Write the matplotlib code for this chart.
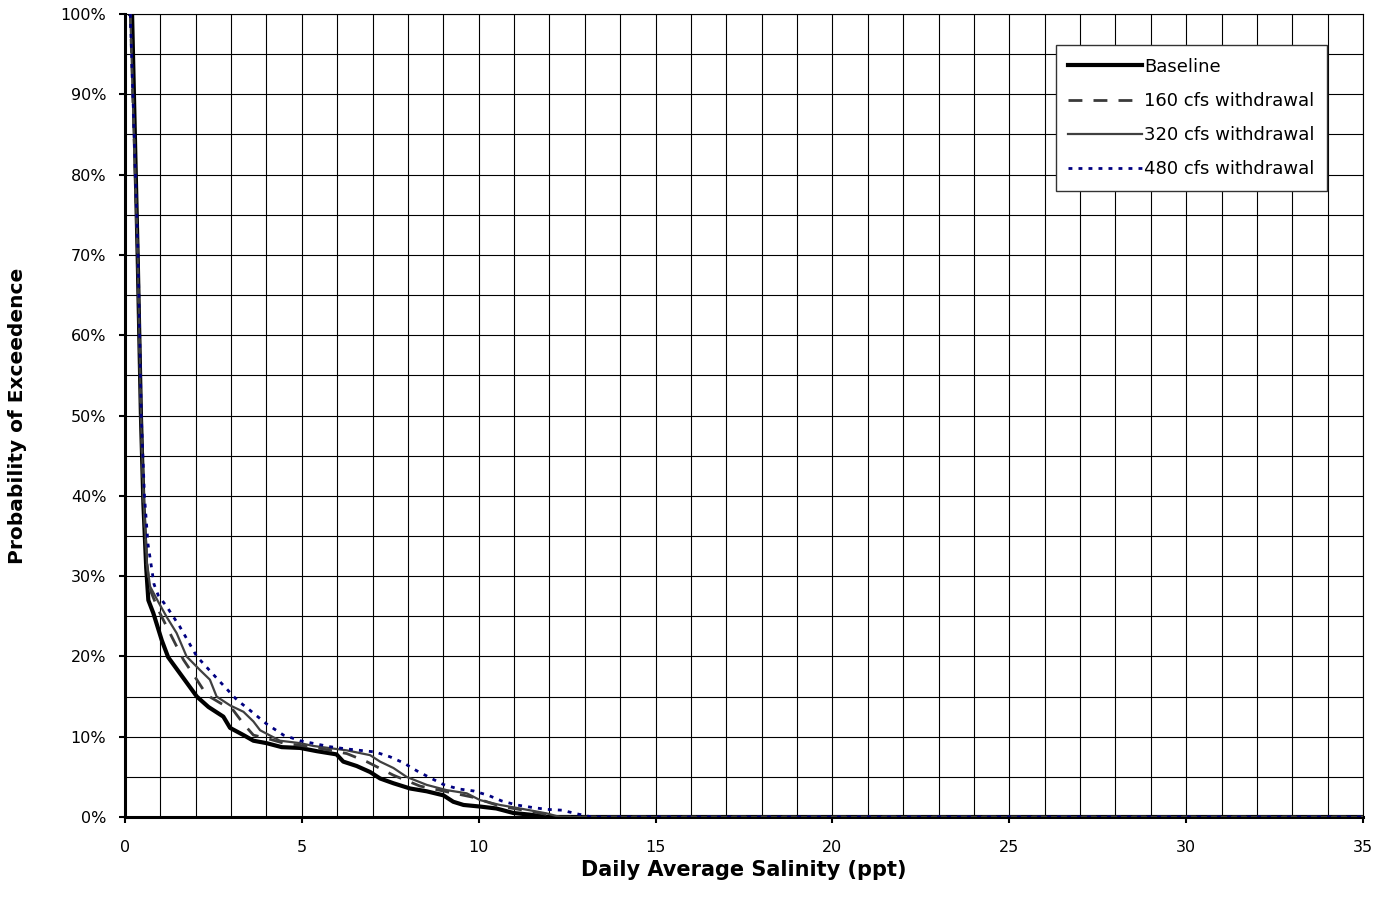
import matplotlib
matplotlib.use("Agg")
import matplotlib.pyplot as plt
from matplotlib.ticker import MultipleLocator, FuncFormatter

plt.rcParams['font.family'] = ['DejaVu Sans']

# Exceedence curves: salinity (ppt) vs probability (%)
base_sal = [0.15, 0.20, 0.36, 0.45, 0.52, 0.60, 0.66, 0.80, 1.04, 1.22, 1.65, 2.03, 2.36, 2.78, 2.97,
            3.35, 3.63, 4.0, 4.43, 4.95, 5.42, 5.98, 6.17, 6.55, 6.93, 7.21, 7.59, 8.06, 8.53, 9.0,
            9.28, 9.57, 10.04, 10.5, 10.98, 11.54, 11.9, 35]
base_prob = [100, 100, 69.5, 50, 39, 31, 27, 25.4, 22, 19.9, 17.3, 15, 13.7, 12.5, 11.1,
             10.2, 9.5, 9.2, 8.7, 8.6, 8.2, 7.8, 6.9, 6.35, 5.6, 4.8, 4.2, 3.55, 3.2, 2.7,
             1.9, 1.5, 1.3, 1.06, 0.5, 0.25, 0, 0]

w160_sal = [0.15, 0.36, 0.45, 0.53, 0.62, 0.71, 0.94, 1.27, 1.65, 2.03, 2.31, 2.69, 3.06, 3.35,
            3.63, 4.0, 4.48, 5.32, 6.27, 6.83, 7.59, 8.34, 9.09, 9.85, 10.6, 11.54, 12.3, 35]
w160_prob = [100, 69.5, 50, 39, 31.5, 28.3, 25.8, 22.9, 19.6, 17.1, 15.2, 14.2, 13.3, 11.6,
             10.2, 9.8, 9.2, 8.7, 7.9, 6.9, 5.2, 3.85, 3.15, 2.45, 1.35, 0.65, 0, 0]

w320_sal = [0.15, 0.36, 0.45, 0.53, 0.62, 0.71, 0.94, 1.18, 1.46, 1.74, 2.12, 2.40, 2.59, 2.97,
            3.35, 3.63, 3.82, 4.38, 4.95, 5.32, 6.27, 6.93, 7.21, 7.59, 7.96, 8.53, 9.09, 9.66,
            10.04, 10.6, 11.17, 11.92, 12.3, 35]
w320_prob = [100, 69.5, 50, 39, 31.5, 28.7, 26.8, 24.9, 22.9, 20.0, 18.3, 17.1, 15.0, 13.9,
             13.1, 11.9, 10.8, 9.5, 9.2, 8.85, 8.3, 7.7, 6.9, 6.1, 5.0, 4.0, 3.35, 2.95,
             2.1, 1.5, 1.06, 0.45, 0, 0]

w480_sal = [0.15, 0.37, 0.46, 0.55, 0.65, 0.82, 0.94, 1.18, 1.55, 2.03, 2.59, 3.16, 3.53, 4.0,
            4.48, 4.95, 5.8, 6.22, 6.64, 7.07, 7.49, 7.87, 8.25, 8.62, 9.0, 9.42, 9.85, 10.27,
            10.65, 11.07, 11.5, 11.92, 12.35, 12.77, 13.2, 35]
w480_prob = [100, 70, 50, 40, 34, 29, 27.6, 26.2, 23.7, 20, 17.3, 14.6, 13.3, 11.6,
             10.2, 9.5, 8.75, 8.5, 8.3, 8.1, 7.5, 6.75, 5.75, 4.9, 4.05, 3.5, 3.25, 2.7,
             2.0, 1.5, 1.2, 0.95, 0.85, 0.4, 0, 0]

fig = plt.figure(figsize=(13.8, 9.11), dpi=100)
ax = fig.add_axes([125 / 1380, 1 - 817 / 911, 1238 / 1380, 803 / 911])

ax.plot(base_sal, base_prob, color='black', lw=3, label='Baseline', zorder=3)
ax.plot(w160_sal, w160_prob, color='#3a3a3a', lw=2, dashes=(5, 4), label='160 cfs withdrawal', zorder=4)
ax.plot(w320_sal, w320_prob, color='#404040', lw=1.6, label='320 cfs withdrawal', zorder=4)
ax.plot(w480_sal, w480_prob, color='#000080', lw=2, dashes=(1.4, 2.2), label='480 cfs withdrawal', zorder=5)

ax.set_xlim(0, 35)
ax.set_ylim(0, 100)

# grid every 1 ppt and every 5 %
ax.xaxis.set_major_locator(MultipleLocator(5))
ax.xaxis.set_minor_locator(MultipleLocator(1))
ax.yaxis.set_major_locator(MultipleLocator(10))
ax.yaxis.set_minor_locator(MultipleLocator(5))
ax.yaxis.set_major_formatter(FuncFormatter(lambda v, p: f"{v:.0f}%"))
ax.grid(True, which='both', color='black', lw=0.8)
ax.set_axisbelow(True)

ax.tick_params(axis='both', which='major', direction='out', length=4.5, width=1.5,
               labelsize=11.5)
ax.tick_params(axis='x', which='major', pad=12)
ax.tick_params(axis='y', which='major', pad=9)
ax.tick_params(axis='both', which='minor', length=0)

for side in ['left', 'bottom']:
    ax.spines[side].set_linewidth(2.2)
for side in ['top', 'right']:
    ax.spines[side].set_linewidth(0.8)

ax.set_xlabel('Daily Average Salinity (ppt)', fontsize=15, fontweight='bold')
ax.set_ylabel('Probability of Exceedence', fontsize=14.5, fontweight='bold')
ax.xaxis.set_label_coords(0.5, -0.053)
ax.yaxis.set_label_coords(-0.079, 0.5)

leg = ax.legend(loc='upper left', bbox_to_anchor=(0.7445, 0.9725), fontsize=13,
                handlelength=4.1, handletextpad=0.1, labelspacing=0.9,
                borderpad=0.7, frameon=True, fancybox=False)
leg.get_frame().set_edgecolor('#333333')
leg.get_frame().set_linewidth(1.0)
leg.get_frame().set_alpha(1)

fig.savefig('out.png', dpi=100)
